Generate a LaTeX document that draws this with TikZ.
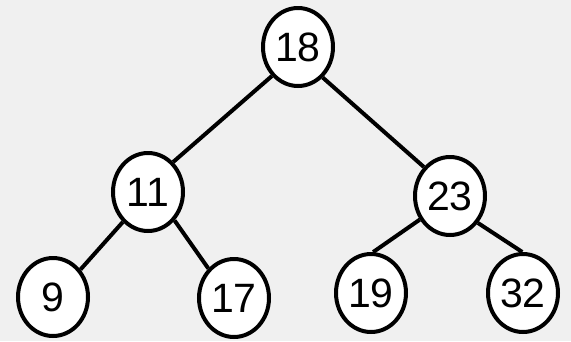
\documentclass[tikz,border=0pt]{standalone}
\usepackage{fontspec}
\setmainfont{Liberation Sans}
\usetikzlibrary{shapes.geometric,positioning}
\definecolor{treebg}{RGB}{240,240,240}
\tikzset{
    keynode/.style={ellipse, draw=black, fill=white, line width=4pt, minimum width=70pt, minimum height=78pt, inner sep=0pt, font=\fontsize{41}{48}\selectfont},
    treeedge/.style={line width=4pt, black},
}
\begin{document}
\begin{tikzpicture}[x=1pt,y=-1pt]
    % Background
    \fill[treebg] (0,0) rectangle (571,341);
    \useasboundingbox (0,0) rectangle (571,341);
    % Root and inner keys
    \node[keynode] (n18) at (298,47) {18};
    \node[keynode] (n11) at (148,192) {11};
    \node[keynode] (n23) at (450,196) {23};
    % Leaves
    \node[keynode] (n9) at (53,297) {9};
    \node[keynode] (n17) at (234,298) {17};
    \node[keynode] (n19) at (371,293) {19};
    \node[keynode] (n32) at (523,293) {32};
    % Edges
    \draw[treeedge] (n18.228) -- (n11.50);
    \draw[treeedge] (n18.309) -- (n23.132);
    \draw[treeedge] (n11.230) -- (n9.45);
    \draw[treeedge] (n11.313) -- (n17.131);
    \draw[treeedge] (n23.218) -- (n19.87);
    \draw[treeedge] (n23.316) -- (n32.91);
\end{tikzpicture}
\end{document}
